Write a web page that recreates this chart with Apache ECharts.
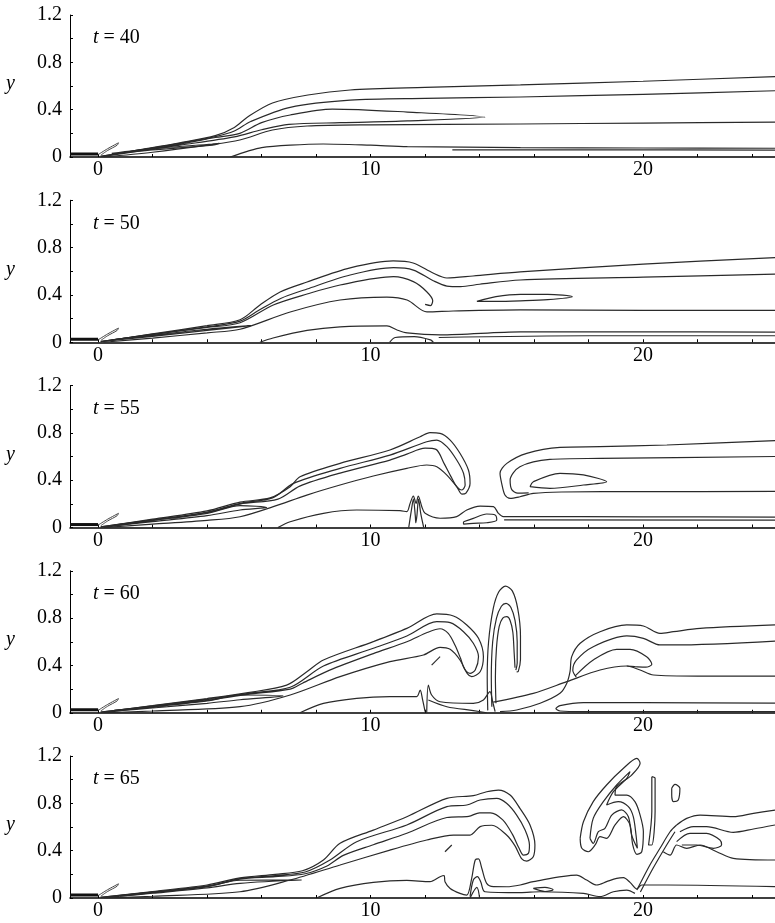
<!DOCTYPE html>
<html><head><meta charset="utf-8">
<script src="https://cdn.jsdelivr.net/npm/echarts@6/dist/echarts.min.js"></script>
<style>html,body{margin:0;padding:0;background:#fff}#c{width:775px;height:923px}</style>
</head><body><div id="c"></div>
<script>
const times = [40, 50, 55, 60, 65];
const xTickLabels = [0, 10, 20];
const xMinorTicks = [0, 2, 4, 6, 8, 10, 12, 14, 16, 18, 20, 22, 24];
const yTickLabels = [0, 0.4, 0.8, 1.2];

const originBar = [[-1.03, 0.025], [0, 0.025]];
const originHook = [[0.0,0.02],[0.35,0.07],[0.75,0.12],[0.7,0.1],[0.35,0.055],[0.1,0.015]];

const t40 = [
  [[0.1,0.005],[1.5,0.06],[3,0.12],[4.3,0.18],[5,0.25],[5.5,0.34],[6.4,0.456],[7.7,0.524],[9.25,0.566],[12,0.588],[15.5,0.61],[20,0.64],[24.84,0.68]],
  [[0.1,0.005],[1.5,0.058],[3,0.115],[4.3,0.172],[5,0.22],[5.6,0.3],[7.05,0.42],[9.25,0.48],[12,0.495],[15.5,0.507],[20,0.53],[24.84,0.56]],
  [[0.2,0.005],[1.5,0.055],[3,0.11],[4.3,0.165],[5.2,0.2],[6,0.29],[7.05,0.355],[8.6,0.405],[11.35,0.38],[14.2,0.338],[11.35,0.305],[8.9,0.29],[7,0.275],[6,0.23],[5,0.17],[3,0.1],[1.5,0.05],[0.2,0.005]],
  [[0.2,0.0],[2,0.04],[4,0.1],[5.2,0.144],[6.4,0.228],[7.67,0.262],[10,0.272],[15.5,0.279],[20,0.287],[24.84,0.295]],
  [[4.85,0.0],[5.5,0.05],[6,0.08],[7.05,0.1],[8.26,0.11],[10,0.1],[11.35,0.088],[15.5,0.08],[20,0.076],[24.84,0.074]],
  [[13,0.06],[18,0.06],[24.84,0.058]],
  [[0.5,0.03],[2,0.07],[4.2,0.11],[4.45,0.115],[4.2,0.1],[2,0.06],[0.5,0.025]]
];

const t50 = [
  [[0.1,0.005],[2,0.07],[4,0.14],[5.21,0.19],[5.94,0.315],[6.68,0.425],[7.67,0.509],[9.25,0.628],[10.83,0.687],[11.56,0.67],[12.29,0.585],[12.8,0.543],[13.76,0.56],[15.49,0.594],[20,0.66],[24.84,0.715]],
  [[0.1,0.005],[2,0.068],[4,0.13],[5.21,0.178],[5.9,0.27],[6.7,0.37],[7.67,0.45],[9.25,0.568],[10.84,0.63],[11.57,0.61],[12.3,0.52],[12.8,0.475],[13.3,0.47],[14,0.49],[15.49,0.526],[20,0.55],[24.84,0.575]],
  [[0.1,0.005],[2,0.065],[4,0.125],[5.21,0.165],[6.43,0.315],[7.7,0.41],[8.88,0.484],[10.84,0.554],[11.57,0.512],[12.06,0.427],[12.28,0.35],[12.2,0.31],[12.0,0.32]],
  [[0.2,0.0],[2,0.035],[4,0.08],[5.21,0.11],[7.05,0.256],[8.88,0.357],[10.6,0.382],[11.34,0.357],[12.07,0.256],[13.03,0.264],[15.49,0.273],[20,0.27],[24.84,0.27]],
  [[5.94,0.0],[6.42,0.036],[7.67,0.1],[8.88,0.13],[10.6,0.138],[10.97,0.104],[11.34,0.079],[12.55,0.062],[15.49,0.087],[20,0.088],[24.84,0.085]],
  [[12.5,0.04],[18,0.055],[24.84,0.055]],
  [[13.9,0.345],[14.6,0.385],[15.5,0.405],[16.5,0.405],[17.4,0.385],[16.5,0.36],[15.5,0.35],[14.6,0.345],[13.9,0.345]],
  [[0.5,0.02],[2,0.06],[4,0.11],[5.6,0.14],[4,0.1],[2,0.05],[0.5,0.015]],
  [[10.7,0.0],[10.9,0.04],[11.6,0.048],[12.2,0.02],[12.3,0.0]]
];

const t55 = [
  [[0.1,0.005],[2,0.07],[4,0.14],[5.21,0.215],[6.31,0.25],[7.05,0.345],[7.41,0.429],[8.88,0.542],[10.71,0.655],[11.82,0.767],[12.18,0.801],[12.55,0.796],[12.92,0.739],[13.28,0.627],[13.59,0.486],[13.65,0.373],[13.5,0.29],[13.35,0.282],[13.16,0.345],[12.8,0.443],[12.43,0.514],[12.06,0.528],[11.33,0.5],[10.1,0.435],[8.88,0.359],[7.66,0.274],[6.43,0.176],[5.21,0.091],[4,0.06],[2,0.028],[0.2,0.0]],
  [[0.1,0.005],[2,0.065],[4,0.13],[5.21,0.205],[6.4,0.25],[7.17,0.373],[8.88,0.5],[10.71,0.612],[12.06,0.725],[12.43,0.739],[12.8,0.683],[13.16,0.57],[13.41,0.458],[13.47,0.359],[13.35,0.317],[13.16,0.345],[12.95,0.43],[12.7,0.54],[12.4,0.66],[12.0,0.67],[11.33,0.62],[10.71,0.57],[8.88,0.46],[7.4,0.35],[6.6,0.24],[5.21,0.198],[4,0.125],[2,0.06],[0.3,0.003]],
  [[0.6,0.02],[2,0.06],[4,0.12],[5.21,0.185],[6.19,0.17],[5.21,0.148],[4,0.1],[2,0.05],[0.6,0.015]],
  [[6.6,0.0],[7.05,0.049],[8.27,0.12],[9.49,0.148],[11.08,0.142],[11.33,0.134],[11.45,0.204],[11.57,0.266],[11.67,0.204],[11.75,0.266],[11.88,0.176],[12.0,0.12],[12.55,0.078],[13.16,0.092],[13.53,0.148],[14.02,0.181],[14.51,0.176],[14.69,0.12],[14.87,0.092],[15.49,0.092],[20,0.09],[24.84,0.088]],
  [[11.4,0.0],[11.5,0.15],[11.57,0.24],[11.64,0.1],[11.66,0.04],[11.7,0.1],[11.76,0.24],[11.84,0.12],[11.95,0.0]],
  [[13.41,0.049],[13.77,0.077],[14.26,0.114],[14.57,0.106],[14.63,0.063],[14.26,0.04],[13.77,0.035],[13.41,0.029],[13.41,0.049]],
  [[14.9,0.065],[24.84,0.062]],
  [[24.84,0.734],[20.87,0.697],[18.42,0.683],[16.95,0.677],[15.73,0.627],[15.0,0.542],[14.75,0.458],[14.81,0.373],[14.93,0.274],[15.12,0.246],[15.48,0.26],[15.97,0.288],[17,0.3],[20,0.303],[24.84,0.305]],
  [[24.84,0.6],[18.42,0.584],[16.58,0.576],[15.48,0.514],[15.12,0.401],[15.18,0.32],[15.4,0.29],[15.8,0.292]],
  [[15.85,0.345],[15.97,0.387],[16.95,0.458],[17.81,0.444],[18.66,0.387],[17.81,0.359],[16.58,0.331],[15.85,0.345]]
];

const t60 = [
  [[0.1,0.005],[2,0.06],[4,0.12],[5.5,0.17],[6.92,0.234],[7.66,0.347],[8.27,0.446],[10.1,0.601],[11.33,0.713],[12.43,0.835],[13.04,0.818],[13.53,0.742],[13.96,0.629],[14.14,0.474],[14.02,0.347],[13.71,0.305],[13.55,0.33],[13.28,0.446],[12.92,0.536],[12.55,0.553],[11.94,0.488],[10.71,0.432],[8.88,0.305],[7.05,0.15],[5.21,0.051],[2,0.015],[0.2,0.0]],
  [[0.1,0.005],[2,0.058],[4,0.115],[5.5,0.165],[7.05,0.215],[8.27,0.395],[10.1,0.545],[11.33,0.649],[12.43,0.77],[12.92,0.761],[13.41,0.685],[13.77,0.587],[13.96,0.474],[13.84,0.361],[13.65,0.333],[13.45,0.37],[13.3,0.46],[13.1,0.57],[12.85,0.67],[12.55,0.71],[12.1,0.68],[11.33,0.6],[10.1,0.5],[8.5,0.36],[7.5,0.25],[7.05,0.2],[5.5,0.155],[4,0.105],[2,0.05],[0.3,0.003]],
  [[12.24,0.403],[12.55,0.474]],
  [[0.6,0.02],[2,0.05],[4,0.1],[5.21,0.15],[6.8,0.142],[5.21,0.11],[4,0.08],[2,0.04],[0.6,0.015]],
  [[7.41,0.0],[8.27,0.079],[9.49,0.122],[10.71,0.136],[11.69,0.136],[11.82,0.192],[11.91,0.108],[12.0,0.009]],
  [[12.06,0.0],[12.12,0.234],[12.24,0.15],[12.55,0.093],[13.77,0.079],[14.14,0.108],[14.38,0.178],[14.48,0.093],[14.57,0.009]],
  [[12.12,0.108],[12.8,0.051],[13.77,0.018],[14.26,0.0]],
  [[14.3,0.02],[14.28,0.3],[14.33,0.6],[14.5,0.88],[14.7,1.02],[14.95,1.07],[15.2,1.03],[15.4,0.88],[15.5,0.65],[15.5,0.45],[15.42,0.35],[15.36,0.345]],
  [[14.45,0.05],[14.43,0.3],[14.48,0.6],[14.62,0.8],[14.8,0.9],[14.97,0.925],[15.15,0.89],[15.3,0.78],[15.38,0.6],[15.38,0.42],[15.33,0.36]],
  [[14.6,0.08],[14.58,0.3],[14.62,0.55],[14.72,0.73],[14.85,0.8],[15.0,0.812],[15.12,0.78],[15.22,0.68],[15.27,0.5],[15.3,0.38]],
  [[24.84,0.742],[22.09,0.713],[21.11,0.685],[20.62,0.671],[20.01,0.733],[19.4,0.742],[18.42,0.685],[17.69,0.587],[17.38,0.474],[17.32,0.35],[17.2,0.25],[16.95,0.164],[16.22,0.08],[15.36,0.023],[14.75,0.009]],
  [[24.84,0.606],[21.11,0.573],[20.62,0.573],[20.01,0.629],[19.4,0.649],[18.17,0.558],[17.56,0.446],[17.42,0.36],[17.55,0.3]],
  [[17.5,0.31],[18.17,0.446],[19.03,0.536],[19.52,0.536],[20.13,0.474],[20.32,0.41],[20.1,0.385],[19.7,0.39],[19.4,0.395]],
  [[14.5,0.09],[15.97,0.164],[17.2,0.263],[18.42,0.361],[19.4,0.395],[19.89,0.361],[20.38,0.319],[22,0.31],[24.84,0.31]],
  [[24.84,0.082],[20,0.085],[17.81,0.085],[16.95,0.06],[16.8,0.035],[16.95,0.015],[17.8,0.01],[24.84,0.01]]
];

const t65 = [
  [[0.1,0.005],[2,0.055],[4,0.11],[5.21,0.17],[6.5,0.2],[7.5,0.23],[8.27,0.321],[8.88,0.462],[10.1,0.574],[11.33,0.687],[12.8,0.842],[13.77,0.865],[14.26,0.898],[14.69,0.912],[15.12,0.87],[15.48,0.758],[15.85,0.617],[16.03,0.448],[15.97,0.349],[15.73,0.312],[15.55,0.33],[15.3,0.44],[15.0,0.53],[14.45,0.615],[14.02,0.603],[13.65,0.532],[13.04,0.532],[12.06,0.49],[10.71,0.405],[8.88,0.279],[7.05,0.152],[5.21,0.053],[2,0.015],[0.2,0.0]],
  [[0.1,0.005],[2,0.05],[4,0.1],[5.21,0.165],[6.5,0.19],[7.6,0.22],[8.51,0.321],[9.49,0.476],[11.33,0.617],[12.8,0.772],[13.53,0.786],[14.02,0.828],[14.63,0.842],[14.99,0.8],[15.36,0.701],[15.67,0.575],[15.83,0.448],[15.79,0.377],[15.61,0.363],[15.45,0.42],[15.2,0.54],[14.85,0.66],[14.4,0.72],[14.0,0.72],[13.6,0.69],[12.8,0.68],[11.33,0.547],[10.1,0.45],[9.0,0.36],[8.4,0.27],[7.6,0.205],[6.5,0.18],[5.21,0.16],[4,0.095],[2,0.045],[0.3,0.003]],
  [[0.8,0.02],[2,0.05],[4,0.1],[5.21,0.15],[7.47,0.152],[5.21,0.124],[4,0.085],[2,0.04],[0.8,0.015]],
  [[12.73,0.391],[12.98,0.448]],
  [[8.02,0.0],[8.88,0.081],[10.1,0.132],[11.33,0.149],[12.18,0.138],[12.55,0.18],[12.7,0.19],[12.73,0.138],[12.92,0.081],[13.28,0.039],[13.53,0.025],[13.71,0.166],[13.84,0.321],[13.96,0.33],[14.08,0.251],[14.26,0.124],[14.51,0.096],[15.0,0.095],[15.49,0.11],[15.97,0.138],[17.56,0.194],[17.93,0.152],[18.3,0.11],[18.66,0.138],[19.03,0.166],[19.28,0.172],[19.52,0.132],[19.77,0.076],[19.95,0.11],[20.87,0.11],[24.84,0.096]],
  [[13.65,0.011],[13.77,0.152],[13.92,0.18],[14.04,0.138],[14.2,0.053],[15.49,0.045],[16.22,0.053],[17.81,0.039],[18.42,0.011],[18.91,0.053],[19.4,0.067],[19.7,0.039]],
  [[13.65,0.0],[13.9,0.09],[14.0,0.0]],
  [[15.97,0.081],[16.4,0.09],[16.7,0.07],[16.4,0.055],[15.97,0.081]],
  [[19.77,0.067],[20.25,0.279],[20.62,0.42],[20.99,0.56],[21.23,0.617]],
  [[19.9,0.05],[20.37,0.253],[20.87,0.45],[21.17,0.56]],
  [[21.23,0.617],[21.6,0.673],[22.09,0.701],[23.31,0.687],[24.05,0.715],[24.84,0.743]],
  [[21.35,0.56],[21.85,0.603],[22.33,0.603],[23.31,0.555],[24.05,0.583],[24.84,0.617]],
  [[21.23,0.476],[21.72,0.546],[22.33,0.546],[22.82,0.49],[22.88,0.448],[22.58,0.42],[21.97,0.448],[21.42,0.448]],
  [[20.74,0.391],[20.99,0.363],[21.23,0.448],[21.6,0.42],[22.09,0.448],[22.7,0.391],[23.31,0.335],[24.84,0.321]],
  [[20.32,1.025],[20.44,1.011],[20.44,0.73],[20.32,0.448],[20.2,0.448],[20.32,0.73],[20.32,1.025]],
  [[21.05,0.927],[21.17,0.96],[21.35,0.927],[21.29,0.828],[21.11,0.814],[21.05,0.87],[21.05,0.927]],
  [[17.69,0.504],[17.81,0.645],[18.17,0.814],[18.66,0.955],[19.28,1.096],[19.77,1.18],[19.89,1.138],[19.58,1.039],[19.03,0.941],[18.97,0.87],[19.4,0.87],[19.7,0.814],[19.89,0.701],[20.01,0.56],[19.95,0.391],[19.77,0.369],[19.62,0.448],[19.52,0.617],[19.28,0.687],[18.97,0.617],[18.66,0.504],[18.42,0.518],[18.24,0.448],[17.99,0.391],[17.75,0.42],[17.69,0.504]],
  [[18.05,0.504],[18.17,0.673],[18.54,0.814],[19.03,0.955],[19.52,1.068],[19.4,1.011],[18.91,0.898],[18.66,0.786],[19.09,0.814],[19.46,0.772],[19.64,0.687],[19.74,0.532],[19.79,0.42],[19.58,0.532],[19.46,0.687],[19.21,0.744],[18.85,0.701],[18.6,0.589],[18.36,0.56],[18.17,0.462],[18.05,0.504]]
];

const panels = [t40, t50, t55, t60, t65];

const FONT = "'Liberation Serif','Times New Roman',serif";
const LEFT = 70, WIDTH = 705, TOP0 = 15, STEP = 185.25, H = 142;

const grids = [], xAxes = [], yAxes = [], series = [], graphics = [];
panels.forEach((lines, i) => {
  const top = TOP0 + STEP * i;
  grids.push({ left: LEFT, top: top, width: WIDTH, height: H });
  xAxes.push({
    gridIndex: i, type: 'value', min: -1.03, max: 24.84,
    axisLine: { onZero: false, lineStyle: { color: '#000', width: 1.5 } },
    axisTick: { show: true, inside: true, length: 3, customValues: xMinorTicks, lineStyle: { color: '#000' } },
    axisLabel: { customValues: xTickLabels, fontFamily: FONT, fontSize: 20, color: '#000', margin: 3 },
    splitLine: { show: false }
  });
  yAxes.push({
    gridIndex: i, type: 'value', min: 0, max: 1.2, interval: 0.4,
    axisLine: { show: true, onZero: false, lineStyle: { color: '#000', width: 1 } },
    axisTick: { show: true, inside: true, length: 3, lineStyle: { color: '#000' } },
    minorTick: { show: true, splitNumber: 2, length: 3, lineStyle: { color: '#000' } },
    axisLabel: { fontFamily: FONT, fontSize: 20, color: '#000', margin: 8,
      formatter: v => (yTickLabels.indexOf(Math.round(v * 10) / 10) >= 0 ? String(Math.round(v * 10) / 10) : '') },
    splitLine: { show: false }
  });
  const base = { type: 'line', xAxisIndex: i, yAxisIndex: i, showSymbol: false, symbol: 'none', silent: true, animation: false };
  series.push(Object.assign({}, base, { data: originBar, lineStyle: { color: '#111', width: 3 } }));
  series.push(Object.assign({}, base, { data: originHook, smooth: 0.3, lineStyle: { color: '#444', width: 1 } }));
  lines.forEach(c => {
    series.push(Object.assign({}, base, { data: c, smooth: 0.3, lineStyle: { color: '#2a2a2a', width: 1.2 } }));
  });
  graphics.push({ type: 'text', left: 6, top: top + 59, style: { text: 'y', fontFamily: FONT, fontSize: 20, fontStyle: 'italic', fill: '#000' } });
  graphics.push({ type: 'text', left: 93, top: top + 13, style: {
    text: '{i|t}{n| = ' + times[i] + '}', fill: '#000',
    rich: { i: { fontStyle: 'italic', fontFamily: FONT, fontSize: 20, fill: '#000' },
            n: { fontFamily: FONT, fontSize: 20, fill: '#000' } } } });
});

const chart = echarts.init(document.getElementById('c'), null, { renderer: 'canvas' });
chart.setOption({ animation: false, grid: grids, xAxis: xAxes, yAxis: yAxes, series: series, graphic: graphics });
</script></body></html>
